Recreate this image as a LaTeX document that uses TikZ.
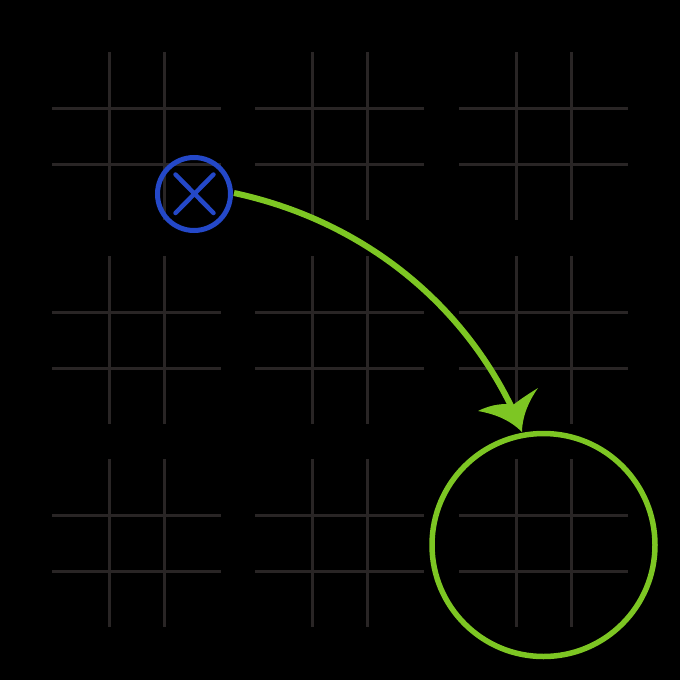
\documentclass[tikz,border=0pt]{standalone}
\definecolor{gridc}{HTML}{292525}
\definecolor{bluec}{HTML}{2448C8}
\definecolor{greenc}{HTML}{7DC623}
\begin{document}
\begin{tikzpicture}[x=1pt,y=-1pt,
  gridline/.style={draw=gridc,line width=3pt},
  greenline/.style={draw=greenc,line width=6pt}]
\fill[black] (0,0) rectangle (680,680);
\useasboundingbox (0,0) rectangle (680,680);
\foreach \gx in {52,255,459}{
  \foreach \gy in {52,256,459}{
    \draw[gridline] (\gx+57,\gy) -- (\gx+57,\gy+168);
    \draw[gridline] (\gx+112,\gy) -- (\gx+112,\gy+168);
    \draw[gridline] (\gx,\gy+56) -- (\gx+169,\gy+56);
    \draw[gridline] (\gx,\gy+112) -- (\gx+169,\gy+112);
  }
}
\node[circle,draw=bluec,line width=5pt,minimum size=73pt,inner sep=0pt] (start) at (194,194) {};
\draw[bluec,line width=4.5pt,line cap=round] (175.5,174.5) -- (213.5,213) (213.5,174.5) -- (175.5,213);
\node[circle,draw=greenc,line width=5.5pt,minimum size=223pt,inner sep=0pt] (goal) at (543.5,545) {};
\coordinate (tip) at (522,432);
\draw[greenline] (start.east) ++(1,-1) .. controls (360,220) and (460,300) .. (512,408);
\fill[greenc] (tip) .. controls (510,420) and (495,414) .. (478,411)
  .. controls (492,404) and (505,403) .. (513,405)
  .. controls (522,398) and (530,393) .. (538,388)
  .. controls (528,402) and (522,418) .. (tip) -- cycle;
\end{tikzpicture}
\end{document}
